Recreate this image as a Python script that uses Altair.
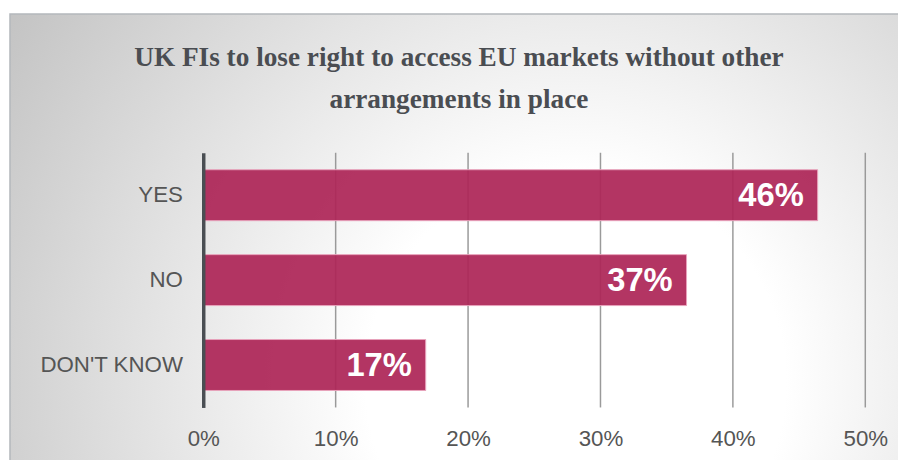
import altair as alt
import pandas as pd

categories = ["YES", "NO", "DON'T KNOW"]
values = [46.4, 36.5, 16.8]
labels = ["46%", "37%", "17%"]
x_ticks = [0, 10, 20, 30, 40, 50]

df = pd.DataFrame({"answer": categories, "pct": values, "label": labels})
grid_df = pd.DataFrame({"tick": x_ticks[1:]})

# the page shrinks an 898px-wide svg to the 890px available; compensate
S = 890 / 898
W, H = round(662 / S), round(255 / S)
PL, PT = round(195 / S), round(143 / S)
PR = 898 - PL - W
PB = round(452 / S) - PT - H

bg = alt.Chart(pd.DataFrame({"k": [0]})).mark_rect(
    fill=alt.RadialGradient(
        gradient="radial",
        x1=0.63, y1=0.65, r1=0,
        x2=0.63, y2=0.65, r2=0.78,
        stops=[
            alt.GradientStop(offset=0, color="#ffffff"),
            alt.GradientStop(offset=0.3, color="#ffffff"),
            alt.GradientStop(offset=1, color="#c0c0c0"),
        ],
    ),
    stroke="#b4b8bc",
    strokeWidth=1.5,
).encode(
    x=alt.value(-PL + 2), x2=alt.value(W + PR + 10),
    y=alt.value(-PT + 4), y2=alt.value(H + PB + 20),
)

x_scale = alt.Scale(domain=[0, 50], nice=False)

grid = alt.Chart(grid_df).mark_rule(color="#9a9a9a", strokeWidth=1.5).encode(
    x=alt.X("tick:Q", scale=x_scale, title=None),
)

y_enc = alt.Y(
    "answer:N",
    sort=categories,
    title=None,
    scale=alt.Scale(paddingInner=0.4, paddingOuter=0.2),
    axis=alt.Axis(
        domainColor="#4a4e53", domainWidth=3.5, ticks=False,
        labelFont="Liberation Sans", labelFontSize=22.5, labelColor="#555555",
        labelPadding=21, grid=False, zindex=1,
    ),
)
x_enc = alt.X(
    "pct:Q",
    title=None,
    scale=x_scale,
    axis=alt.Axis(
        values=x_ticks, labelExpr="datum.value + '%'",
        domain=False, ticks=False, grid=False, zindex=1, labelFlush=False,
        labelFont="Liberation Sans", labelFontSize=22.5, labelColor="#555555",
        labelPadding=20,
    ),
)

bars = alt.Chart(df).mark_bar(
    color="#ad2657", fillOpacity=0.93, stroke="#e8a3bb", strokeWidth=1,
).encode(y=y_enc, x=x_enc)

text = alt.Chart(df).mark_text(
    align="right", baseline="middle", dx=-14, dy=1,
    font="Liberation Sans", fontSize=33, color="white", fontWeight="bold",
).encode(
    y=alt.Y("answer:N", sort=categories),
    x=alt.X("pct:Q"),
    text="label:N",
)

# bounds top = -PT + 4 - 0.75 ; want title bottom at plot y = -39/S
title_offset = (-PT + 4 - 0.75) + 39 / S

chart = alt.layer(bg, grid, bars, text).properties(
    width=W, height=H,
    autosize=alt.AutoSizeParams(type="none"),
    padding={"left": PL, "top": PT, "right": PR, "bottom": PB},
    title=alt.TitleParams(
        text=["UK FIs to lose right to access EU markets without other",
              "arrangements in place"],
        font="Liberation Serif", fontSize=27.5, fontWeight="bold", color="#4a4d52",
        anchor="middle", frame="bounds", lineHeight=43, offset=title_offset,
    ),
).configure_view(stroke="transparent").configure(background="white")

chart.save("out.html", embed_options={"renderer": "svg", "actions": False})
